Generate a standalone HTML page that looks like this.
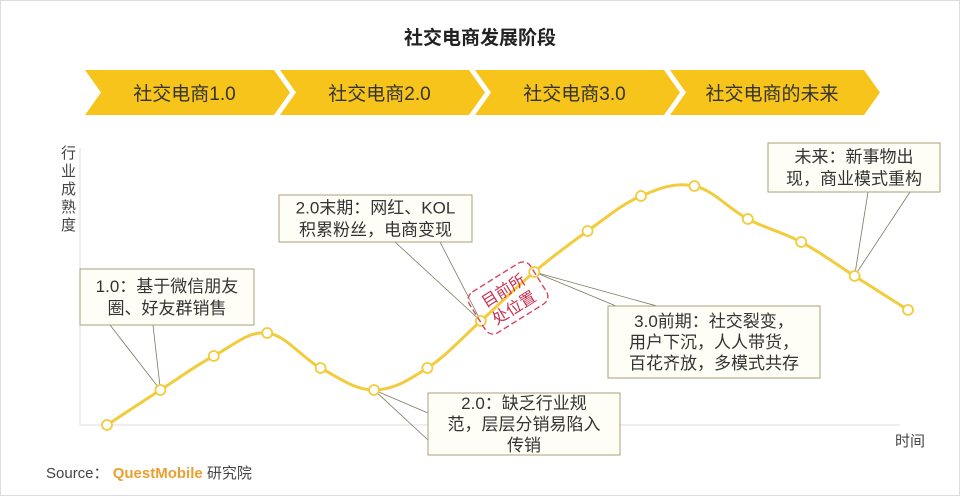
<!DOCTYPE html>
<html><head><meta charset="utf-8">
<style>
body{margin:0;background:#fff;width:960px;height:496px;overflow:hidden;font-family:"Liberation Sans","Noto Sans CJK SC",sans-serif;}
svg text{font-family:"Liberation Sans","Noto Sans CJK SC",sans-serif;}
</style></head>
<body>
<svg id="c" width="960" height="496" viewBox="0 0 960 496">
<rect x="0.5" y="0.5" width="959" height="495" fill="#fff" stroke="#ddd"/>
<text x="480" y="44" text-anchor="middle" font-size="19" font-weight="bold" fill="#222">社交电商发展阶段</text>
<g id="banner"></g>
<line x1="80" y1="148" x2="80" y2="425" stroke="#ddd"/>
<line x1="80" y1="425" x2="900" y2="425" stroke="#ddd"/>
<text font-size="15" fill="#444">
<tspan x="61" y="158">行</tspan><tspan x="61" y="176">业</tspan><tspan x="61" y="194">成</tspan><tspan x="61" y="212">熟</tspan><tspan x="61" y="230">度</tspan></text>
<text x="895" y="446" font-size="15" fill="#444">时间</text>
<g id="leaders" stroke="#7a7a60" stroke-width="0.8" fill="none"></g>
<g id="plot"></g>
<g id="boxes"></g>
<g transform="translate(508,298) rotate(-32)">
<rect x="-36" y="-24" width="72" height="48" rx="9" fill="none" stroke="#d9455f" stroke-width="1.4" stroke-dasharray="6,3"/>
<text x="0" y="-3" text-anchor="middle" font-size="16" fill="#c83050">目前所</text>
<text x="0" y="17" text-anchor="middle" font-size="16" fill="#c83050">处位置</text>
</g>
<text x="46" y="478" font-size="15" fill="#444">Source： <tspan fill="#e8a030" font-weight="bold">QuestMobile</tspan> 研究院</text>
</svg>
<script>
const stages=["社交电商1.0","社交电商2.0","社交电商3.0","社交电商的未来"];
const values=[0,35,69,92,57,35,57,104,153,194,229,239,206,183,149,115];
const yMin=0,yMax=280;
const NS="http://www.w3.org/2000/svg";
function mk(t,a,p){const e=document.createElementNS(NS,t);for(const k in a)e.setAttribute(k,a[k]);p.appendChild(e);return e;}
const x0=107,x1=908,yb=425,yt=145;
function xs(i){return x0+(x1-x0)*i/(values.length-1);}
function ys(v){return yb-(v-yMin)/(yMax-yMin)*(yb-yt);}
const bn=document.getElementById('banner');
const bx=[85,280,475,670,870];
stages.forEach((s,i)=>{
  const a=bx[i],b=bx[i+1],y1=70,y2=115,m=92.5,d=16;
  const pts=`${a},${y1} ${b-6},${y1} ${b+d-6},${m} ${b-6},${y2} ${a},${y2} ${a+d},${m}`;
  const p=mk('polygon',{points:pts,fill:'#f7c41c'},bn);
  
  
  const t=mk('text',{x:(a+b)/2+2,y:100,'text-anchor':'middle','font-size':19,fill:'#333'},bn);
  t.textContent=s;
  
  
});
const pl=document.getElementById('plot');
const P=values.map((v,i)=>[xs(i),ys(v)]);
let d=`M${P[0][0]},${P[0][1]}`;
for(let i=0;i<P.length-1;i++){
  const p0=P[i-1]||P[i],p1=P[i],p2=P[i+1],p3=P[i+2]||P[i+1],k=0.18;
  d+=` C${p1[0]+(p2[0]-p0[0])*k},${p1[1]+(p2[1]-p0[1])*k} ${p2[0]-(p3[0]-p1[0])*k},${p2[1]-(p3[1]-p1[1])*k} ${p2[0]},${p2[1]}`;
}
const ln=mk('path',{d:d,fill:'none',stroke:'#f2cc3c','stroke-width':3},pl);


P.forEach((p,i)=>{
  const c=mk('circle',{cx:p[0],cy:p[1],r:5,fill:'#fff',stroke:'#f2cc3c','stroke-width':1.8},pl);
  
  
});
const boxes=[
 {x:80,y:269,w:174,h:56,lines:["1.0：基于微信朋友","圈、好友群销售"],pt:1,from:[[110,325],[153,325]]},
 {x:279,y:195,w:193,h:47,lines:["2.0末期：网红、KOL","积累粉丝，电商变现"],pt:7,from:[[395,242],[440,242]]},
 {x:428,y:393,w:192,h:62,lines:["2.0：缺乏行业规","范，层层分销易陷入","传销"],pt:5,from:[[428,413],[428,440]]},
 {x:608,y:306,w:212,h:72,lines:["3.0前期：社交裂变，","用户下沉，人人带货，","百花齐放，多模式共存"],pt:8,from:[[645,318],[700,318]]},
 {x:768,y:143,w:172,h:49,lines:["未来：新事物出","现，商业模式重构"],pt:14,from:[[868,192],[910,192]]}
];
const bg=document.getElementById('boxes'),lg=document.getElementById('leaders');
boxes.forEach((b,i)=>{
  const p=P[b.pt];
  b.from.forEach(f=>{const l=mk('line',{x1:f[0],y1:f[1],x2:p[0],y2:p[1]},lg);
    });
  const r=mk('rect',{x:b.x,y:b.y,width:b.w,height:b.h,fill:'#fffef6',stroke:'#a8a07a','stroke-width':1},bg);
  
  
  const lh=b.lines.length===3?21:22;
  b.lines.forEach((s,j)=>{
    const t=mk('text',{x:b.x+b.w/2,y:b.y+b.h/2-(b.lines.length-1)*lh/2+j*lh+6,'text-anchor':'middle','font-size':17,fill:'#333'},bg);
    t.textContent=s;
    
    
  });
});
</script>
</body></html>
